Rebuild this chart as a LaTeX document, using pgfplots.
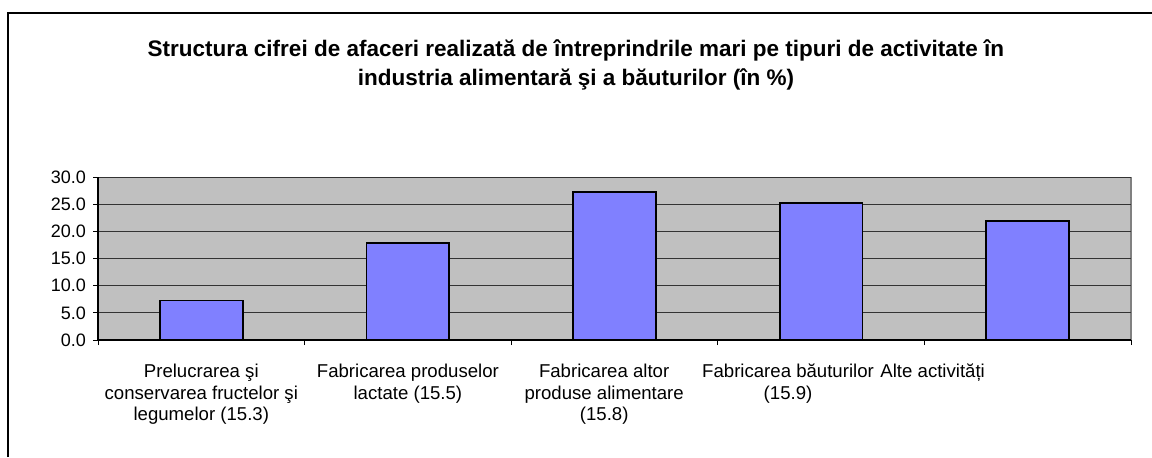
\documentclass[border=0pt]{standalone}
\usepackage{fontspec}
\setmainfont{Liberation Sans}
\usepackage{pgfplots}
\pgfplotsset{compat=1.18}
\definecolor{plotgrey}{HTML}{C0C0C0}
\definecolor{barblue}{HTML}{8080FF}

\begin{document}
\begin{tikzpicture}
% picture frame: 1 px of the reference = 0.5pt
\useasboundingbox (0,0) rectangle (576pt,-228.5pt);
\draw[black, line width=0.6pt] (4pt,-228.5pt) -- (4pt,-6.5pt) -- (576pt,-6.5pt);
\node[align=center, font=\bfseries\fontsize{11.25}{14.5}\selectfont] at (288pt,-32.4pt)
  {Structura cifrei de afaceri realizată de întreprindrile mari pe tipuri de activitate în\\
   industria alimentară şi a băuturilor (în \%)};
\begin{axis}[
    at={(49pt,-170pt)}, anchor=south west,
    scale only axis,
    width=516.5pt, height=81.35pt,
    xmin=-0.5, xmax=4.5,
    ymin=0, ymax=30,
    ytick={0,5,...,30},
    xtick={-0.5,0.5,...,4.5},
    xticklabels={},
    extra x ticks={0,1,1.95,2.84,3.54},
    extra x tick labels={{Prelucrarea şi\\conservarea fructelor şi\\legumelor (15.3)},
                         {Fabricarea produselor\\lactate (15.5)},
                         {Fabricarea altor\\produse alimentare\\(15.8)},
                         {Fabricarea băuturilor\\(15.9)},
                         {Alte activități}},
    extra x tick style={major tick length=0pt, grid=none},
    xticklabel style={align=center, font=\fontsize{9.3}{10.75}\selectfont, yshift=-8.5pt},
    yticklabel style={font=\fontsize{9}{10.5}\selectfont},
    /pgf/number format/assume math mode=true,
    yticklabel={\pgfmathprintnumber[fixed, fixed zerofill, precision=1]{\tick}},
    axis x line*=bottom, axis y line*=left,
    axis line style={black, line width=0.6pt, -},
    axis background/.style={fill=plotgrey, draw=gray, line width=0.8pt},
    tick align=outside,
    major tick length=2.5pt,
    tick style={black, line width=0.5pt},
    ymajorgrids,
    major grid style={black!80, line width=0.5pt},
    ybar, bar width=0.4,
]
\addplot[fill=barblue, draw=black, line width=0.9pt] coordinates {
  (0,7.3) (1,17.9) (2,27.3) (3,25.3) (4,22.0)
};
\end{axis}
\end{tikzpicture}
\end{document}
